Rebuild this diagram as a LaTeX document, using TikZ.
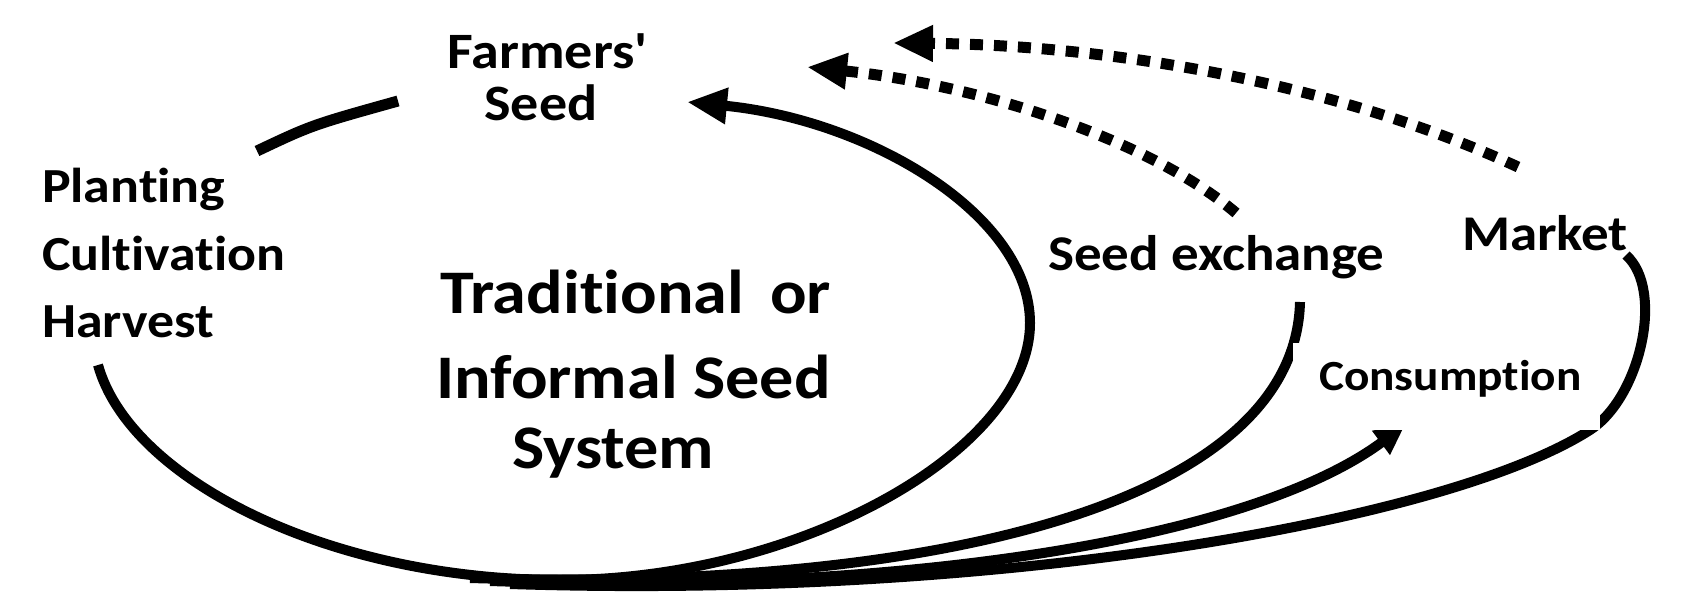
\documentclass[tikz,border=0pt]{standalone}
\usepackage{fontspec}
\setmainfont{Carlito}[FakeStretch=1.1,Ligatures=NoCommon]
\usetikzlibrary{arrows.meta}
\begin{document}
\begin{tikzpicture}[x=1pt,y=-1pt,
  curve/.style={line width=10pt},
  dashcurve/.style={line width=11pt, dash pattern=on 13pt off 11pt},
  bigtip/.style={-{Triangle[length=40pt,width=34pt]}},
  smalltip/.style={-{Triangle[length=30pt,width=28pt]}},
  lbl/.style={inner sep=0pt, outer sep=0pt},
  fsA/.style={font=\bfseries\fontsize{51}{51}\selectfont},
  fsB/.style={font=\bfseries\fontsize{49}{49}\selectfont},
  fsC/.style={font=\bfseries\fontsize{62}{62}\selectfont},
  fsD/.style={font=\bfseries\fontsize{50}{50}\selectfont},
  fsE/.style={font=\bfseries\fontsize{43}{43}\selectfont}]
\useasboundingbox (0,0) rectangle (1691,605);
\fill[white] (0,0) rectangle (1691,605);

% labels
\node[lbl,fsA,anchor=base] (farm1) at (547,68) {Farmers\textquotesingle};
\node[lbl,fsA,anchor=base] (farm2) at (541,120) {Seed};
\node[lbl,fsB,anchor=base west] (plant) at (42,202) {Planting};
\node[lbl,fsB,anchor=base west] (cult) at (42,270) {Cultivation};
\node[lbl,fsB,anchor=base west] (harv) at (42,337) {Harvest};
\node[lbl,fsC,anchor=base west] (trad1) at (440,313) {Traditional\hspace{26pt}or};
\node[lbl,fsC,anchor=base west] (trad2) at (436,398) {Informal Seed};
\node[lbl,fsC,anchor=base west] (trad3) at (512,468) {System};
\node[lbl,fsD,anchor=base west] (seedex) at (1048,270) {Seed exchange};
\node[lbl,fsD,anchor=base west] (market) at (1462,250) {Market};

% connector end points
\coordinate (plantOut) at (257,151);
\coordinate (farmLeft) at (398,101);
\coordinate (harvestEnd) at (98,365);
\coordinate (loopBottom) at (560,580);
\coordinate (loopRight) at (1030,323);
\coordinate (farmIn) at (687,102);
\coordinate (seBot) at (470,578);
\coordinate (seTop) at (1300,302);
\coordinate (coBot) at (490,581);
\coordinate (coTip) at (1405,425);
\coordinate (mkBot) at (510,584);
\coordinate (mkMid) at (1590,430);
\coordinate (mkTop) at (1626,255);
\coordinate (mkDash) at (1518,167);
\coordinate (farmTipA) at (893,43);
\coordinate (seDash) at (1236,213);
\coordinate (farmTipB) at (807,67);

% short stroke towards Farmers' Seed
\draw[line width=11pt] (plantOut) .. controls (312,125) .. (farmLeft);

% big loop
\draw[curve,bigtip] (harvestEnd) .. controls (130,480) and (330,580) .. (loopBottom)
  .. controls (800,580) and (1030,450) .. (loopRight)
  .. controls (1030,215) and (870,120) .. (farmIn);

% seed exchange branch
\draw[curve] (seBot) .. controls (930,592) and (1295,505) .. (seTop);

% consumption branch
\draw[curve,smalltip] (coBot) .. controls (900,595) and (1250,540) .. (coTip);

% market branch
\draw[curve] (mkBot) .. controls (1000,600) and (1450,520) .. (mkMid)
  .. controls (1640,398) and (1665,290) .. (mkTop);

% dashed returns
\draw[dashcurve,bigtip] (mkDash) .. controls (1330,80) and (1100,45) .. (farmTipA);
\draw[dashcurve,bigtip] (seDash) .. controls (1150,140) and (980,85) .. (farmTipB);

% consumption label on white patch
\fill[white] (1293,343) rectangle (1600,430);
\node[lbl,fsE,anchor=base west] (cons) at (1319,390) {Consumption};
\end{tikzpicture}
\end{document}
